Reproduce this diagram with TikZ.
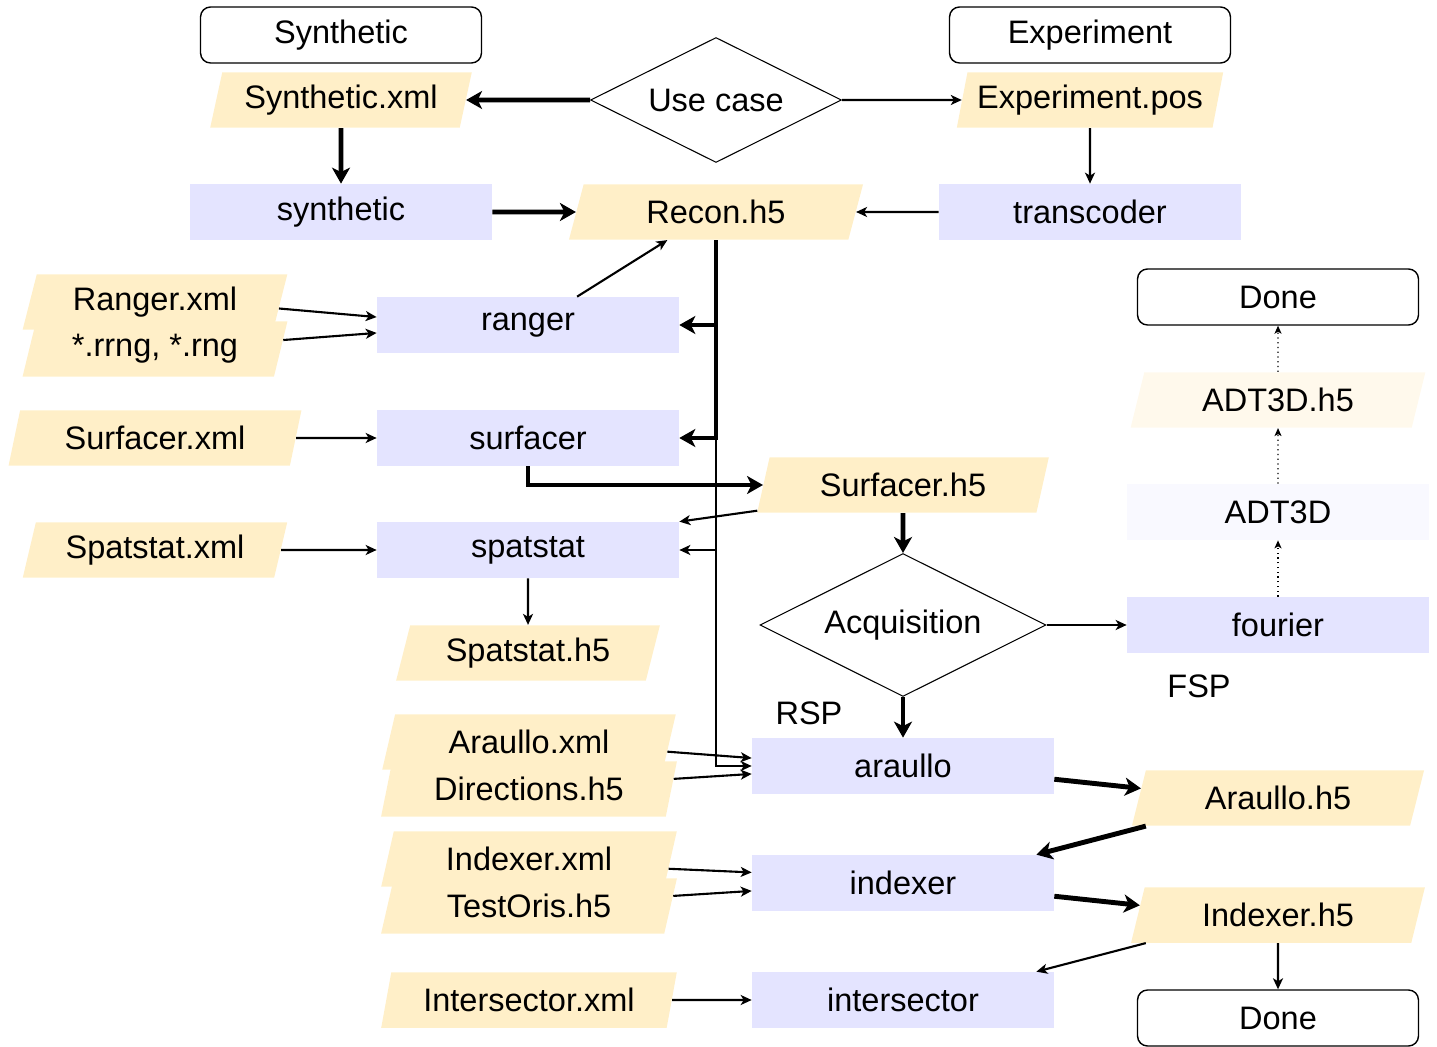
\documentclass[tikz,border=0pt]{standalone}
\usepackage{fontspec}
\setmainfont{Liberation Sans}
\usetikzlibrary{shapes.geometric,arrows.meta}

\definecolor{filecol}{HTML}{FFEFC8}
\definecolor{progcol}{HTML}{E4E4FF}
\definecolor{fadefile}{HTML}{FFF9EC}
\definecolor{fadeprog}{HTML}{F9F9FF}

\tikzset{
  every node/.style={font=\fontsize{18.5}{22}\selectfont},
  prog/.style={fill=progcol, minimum width=6.04cm, minimum height=1.12cm, inner sep=0pt},
  file/.style={trapezium, trapezium left angle=72, trapezium right angle=108,
    trapezium stretches=true, fill=filecol, minimum height=1.11cm, inner sep=0pt},
  term/.style={draw, rounded corners=0.2cm, minimum width=5.62cm, minimum height=1.12cm,
    line width=0.8pt},
  choice/.style={diamond, aspect=2, draw, line width=0.6pt, inner sep=0pt},
  thin arrow/.style={line width=1.2pt, -{Stealth[length=2.2mm, width=2mm, inset=0.6mm]}},
  thick arrow/.style={line width=2.8pt, -{Stealth[length=3.2mm, width=3.6mm, inset=0.9mm]}},
  dot arrow/.style={line width=0.7pt, dotted, -{Stealth[length=1.6mm, width=1.4mm, inset=0.4mm]}},
}

\begin{document}
\begin{tikzpicture}[x=0.02cm, y=-0.02cm]
\useasboundingbox (0,0) rectangle (1437,1047);

% use cases
\node[term] (synth) at (341,35) {Synthetic};
\node[term] (exp) at (1090,35) {Experiment};
\node[choice, minimum width=5.02cm, minimum height=2.5cm] (usecase) at (716,100) {Use case};
\node[file, minimum width=5.24cm] (synthxml) at (341,100) {Synthetic.xml};
\node[file, minimum width=5.34cm] (exppos) at (1090,100) {Experiment.pos};
\node[prog] (synthetic) at (341,212) {synthetic};
\node[file, minimum width=5.92cm] (recon) at (716,212) {Recon.h5};
\node[prog] (transcoder) at (1090,212) {transcoder};

% ranging, surface, spatial statistics
\node[file, minimum width=5.3cm] (rxml) at (155,302) {Ranger.xml};
\node[file, minimum width=5.3cm] (rrng) at (155,349) {*.rrng, *.rng};
\node[prog] (ranger) at (528,325) {ranger};
\node[file, minimum width=5.86cm] (surfxml) at (155,438) {Surfacer.xml};
\node[prog] (surfacer) at (528,438) {surfacer};
\node[file, minimum width=5.84cm] (surfh5) at (903,485) {Surfacer.h5};
\node[file, minimum width=5.3cm] (spatxml) at (155,550) {Spatstat.xml};
\node[prog] (spatstat) at (528,550) {spatstat};
\node[file, minimum width=5.28cm] (spath5) at (528,653) {Spatstat.h5};

% acquisition
\node[choice, minimum width=5.72cm, minimum height=2.86cm] (acq) at (903,625) {Acquisition};
\node[prog] (fourier) at (1278,625) {fourier};
\node[prog, fill=fadeprog] (adt) at (1278,512) {ADT3D};
\node[file, fill=fadefile, minimum width=5.9cm] (adth5) at (1278,400) {ADT3D.h5};
\node[term] (done1) at (1278,297) {Done};
\node (fsp) at (1199,686) {FSP};
\node (rsp) at (809,713) {RSP};

% araullo, indexer, intersector
\node[file, minimum width=5.92cm] (arxml) at (529,742) {Araullo.xml};
\node[file, minimum width=5.92cm] (dirh5) at (529,789) {Directions.h5};
\node[prog] (araullo) at (903,766) {araullo};
\node[file, minimum width=5.88cm] (arh5) at (1278,798) {Araullo.h5};
\node[file, minimum width=5.92cm] (idxml) at (529,859) {Indexer.xml};
\node[file, minimum width=5.92cm] (oris) at (529,906) {TestOris.h5};
\node[prog] (indexer) at (903,883) {indexer};
\node[file, minimum width=5.88cm] (idxh5) at (1278,915) {Indexer.h5};
\node[file, minimum width=5.92cm] (intxml) at (529,1000) {Intersector.xml};
\node[prog] (intersector) at (903,1000) {intersector};
\node[term] (done2) at (1278,1018) {Done};

% connectors
\draw[thick arrow] (usecase.west) -- (synthxml.east);
\draw[thin arrow] (usecase.east) -- (exppos.west);
\draw[thick arrow] (synthxml.south) -- (synthetic.north);
\draw[thin arrow] (exppos.south) -- (transcoder.north);
\draw[thick arrow] (synthetic.east) -- (recon.west);
\draw[thin arrow] (transcoder.west) -- (recon.east);
\draw[thin arrow] (ranger.30) -- (recon.210);
\draw[thin arrow] (recon.south) |- (spatstat.east);
\draw[thin arrow] (recon.south) |- (araullo.west);
\draw[thick arrow] (recon.south) |- (ranger.east);
\draw[thick arrow] (recon.south) |- (surfacer.east);
\draw[thin arrow] (rxml.-3) -- (ranger.177);
\draw[thin arrow] (rrng.4) -- (ranger.183);
\draw[thin arrow] (surfxml.east) -- (surfacer.west);
\draw[thick arrow] (surfacer.south) |- (surfh5.west);
\draw[thin arrow] (surfh5.190) -- (spatstat.north east);
\draw[thin arrow] (spatxml.east) -- (spatstat.west);
\draw[thin arrow] (spatstat.south) -- (spath5.north);
\draw[thick arrow] (surfh5.south) -- (acq.north);
\draw[thin arrow] (acq.east) -- (fourier.west);
\draw[thick arrow] (acq.south) -- (araullo.north);
\draw[dot arrow] (fourier.north) -- (adt.south);
\draw[dot arrow] (adt.north) -- (adth5.south);
\draw[dot arrow] (adth5.north) -- (done1.south);
\draw[thin arrow] (arxml.-4) -- (araullo.177);
\draw[thin arrow] (dirh5.4) -- (araullo.183);
\draw[thick arrow] (araullo.-5) -- (arh5.176);
\draw[thick arrow] (arh5.192) -- (indexer.12);
\draw[thin arrow] (idxml.-4) -- (indexer.176);
\draw[thin arrow] (oris.4) -- (indexer.183);
\draw[thick arrow] (indexer.-5) -- (idxh5.176);
\draw[thin arrow] (idxh5.192) -- (intersector.12);
\draw[thin arrow] (idxh5.south) -- (done2.north);
\draw[thin arrow] (intxml.east) -- (intersector.west);
\end{tikzpicture}
\end{document}
